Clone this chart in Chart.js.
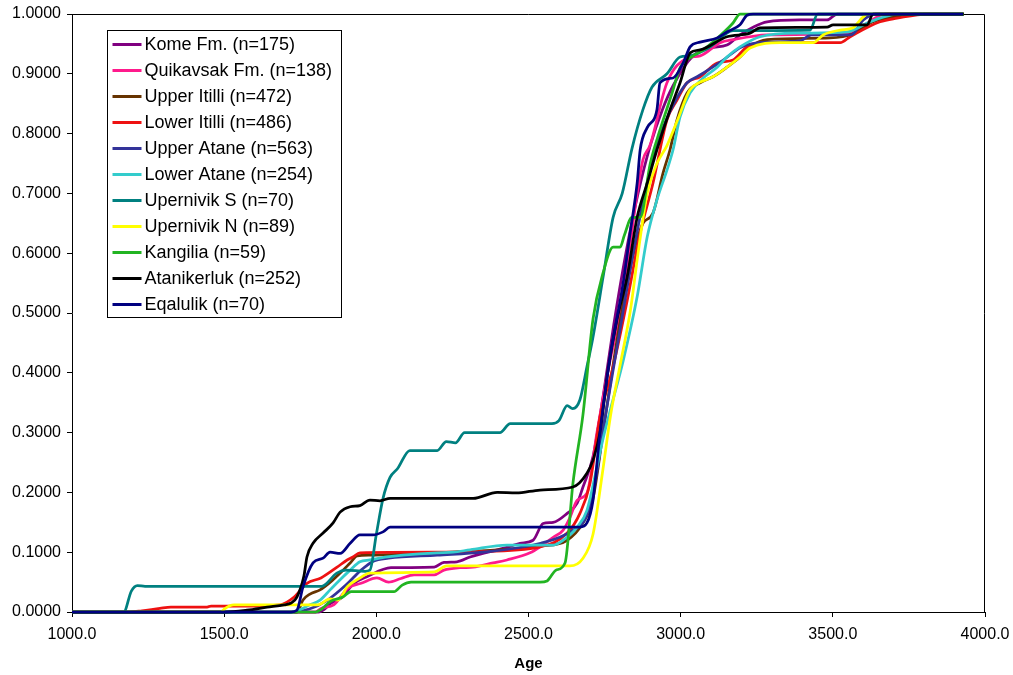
<!DOCTYPE html>
<html>
<head>
<meta charset="utf-8">
<script src="https://cdn.jsdelivr.net/npm/chart.js"></script>
<style>
html, body { margin: 0; padding: 0; background: #fff; }
#wrap { width: 1013px; height: 675px; position: relative; }
</style>
</head>
<body>
<div id="wrap"><canvas id="c"></canvas></div>
<script>
// cumulative age distributions
const komeAge = [1000, 1810, 1830, 1851, 1884, 1927, 1969, 2048, 2190, 2222, 2265, 2308, 2429, 2472, 2515, 2548, 2581, 2627, 2660, 2679, 2712, 2745, 2780, 2820, 2860, 2900, 2940, 2975, 3041, 3097, 3152, 3195, 3238, 3284, 3392, 3481, 3514, 3930];
const komeVal = [0, 0, 0.005, 0.015, 0.023, 0.048, 0.059, 0.074, 0.075, 0.083, 0.084, 0.092, 0.108, 0.115, 0.12, 0.148, 0.15, 0.165, 0.182, 0.209, 0.26, 0.36, 0.48, 0.6, 0.7, 0.78, 0.84, 0.88, 0.93, 0.943, 0.948, 0.965, 0.978, 0.987, 0.99, 0.99, 1.0, 1.0];

const quikAge = [1000, 1800, 1818, 1860, 1907, 1950, 2002, 2040, 2081, 2124, 2190, 2222, 2275, 2318, 2384, 2429, 2505, 2538, 2581, 2614, 2637, 2660, 2692, 2725, 2760, 2800, 2830, 2857, 2876, 2899, 2955, 3021, 3064, 3130, 3172, 3284, 3547, 3590, 3645, 3678, 3930];
const quikVal = [0, 0, 0.006, 0.012, 0.04, 0.048, 0.057, 0.05, 0.056, 0.062, 0.062, 0.07, 0.074, 0.075, 0.082, 0.087, 0.099, 0.109, 0.125, 0.137, 0.159, 0.187, 0.199, 0.3, 0.4, 0.5, 0.6, 0.7, 0.756, 0.78, 0.885, 0.926, 0.93, 0.952, 0.957, 0.965, 0.968, 0.977, 0.995, 1.0, 1.0];

const upItilliAge = [1000, 1740, 1759, 1782, 1815, 1858, 1881, 1914, 1937, 1979, 2100, 2250, 2400, 2540, 2627, 2679, 2712, 2745, 2780, 2820, 2850, 2876, 2909, 2942, 2965, 2988, 3021, 3064, 3106, 3152, 3195, 3228, 3284, 3491, 3567, 3632, 3698, 3764, 3930];
const upItilliVal = [0, 0, 0.02, 0.03, 0.037, 0.054, 0.065, 0.082, 0.094, 0.095, 0.097, 0.1, 0.104, 0.11, 0.12, 0.149, 0.19, 0.3, 0.42, 0.54, 0.61, 0.65, 0.667, 0.734, 0.773, 0.823, 0.868, 0.885, 0.895, 0.911, 0.928, 0.945, 0.957, 0.96, 0.967, 0.987, 0.995, 1.0, 1.0];

const loItilliAge = [1000, 1190, 1230, 1289, 1325, 1444, 1457, 1575, 1684, 1730, 1772, 1818, 1871, 1904, 1923, 1946, 2199, 2320, 2538, 2627, 2669, 2702, 2735, 2778, 2824, 2867, 2909, 2955, 2988, 3021, 3064, 3120, 3172, 3218, 3284, 3524, 3557, 3655, 3711, 3810, 3930];
const loItilliVal = [0, 0, 0.002, 0.006, 0.008, 0.008, 0.01, 0.01, 0.012, 0.025, 0.048, 0.057, 0.075, 0.087, 0.092, 0.099, 0.1, 0.101, 0.109, 0.132, 0.165, 0.215, 0.326, 0.41, 0.52, 0.634, 0.717, 0.823, 0.856, 0.885, 0.895, 0.918, 0.923, 0.945, 0.952, 0.952, 0.962, 0.987, 0.993, 1.0, 1.0];

const upAtaneAge = [1000, 1720, 1780, 1840, 1900, 1950, 1990, 2040, 2200, 2350, 2540, 2640, 2690, 2720, 2750, 2790, 2830, 2870, 2910, 2950, 2988, 3021, 3054, 3140, 3200, 3284, 3392, 3430, 3560, 3600, 3640, 3930];
const upAtaneVal = [0, 0, 0.005, 0.02, 0.045, 0.07, 0.085, 0.09, 0.095, 0.1, 0.115, 0.135, 0.16, 0.22, 0.32, 0.44, 0.56, 0.67, 0.76, 0.82, 0.86, 0.885, 0.895, 0.923, 0.945, 0.953, 0.955, 0.965, 0.965, 0.99, 1.0, 1.0];

const loAtaneAge = [1000, 1720, 1782, 1815, 1848, 1881, 1914, 1946, 1979, 2035, 2088, 2199, 2252, 2308, 2429, 2581, 2614, 2660, 2692, 2725, 2745, 2770, 2811, 2857, 2890, 2922, 2955, 2975, 2998, 3031, 3074, 3120, 3152, 3195, 3261, 3392, 3547, 3613, 3655, 3711, 3930];
const loAtaneVal = [0, 0, 0.012, 0.02, 0.037, 0.054, 0.07, 0.084, 0.087, 0.092, 0.095, 0.099, 0.1, 0.104, 0.112, 0.112, 0.12, 0.142, 0.17, 0.243, 0.29, 0.34, 0.42, 0.527, 0.627, 0.689, 0.739, 0.773, 0.828, 0.868, 0.893, 0.911, 0.928, 0.945, 0.962, 0.968, 0.97, 0.985, 0.993, 1.0, 1.0];

const upernSAge = [1000, 1170, 1195, 1215, 1240, 1820, 1870, 1900, 1963, 1979, 2000, 2022, 2045, 2070, 2110, 2200, 2230, 2260, 2290, 2406, 2440, 2577, 2600, 2627, 2645, 2669, 2692, 2712, 2745, 2778, 2808, 2840, 2876, 2906, 2955, 2998, 3030, 3097, 3172, 3425, 3450, 3930];
const upernSVal = [0, 0, 0.035, 0.044, 0.043, 0.043, 0.065, 0.07, 0.068, 0.07, 0.13, 0.19, 0.225, 0.24, 0.27, 0.27, 0.285, 0.283, 0.3, 0.3, 0.315, 0.315, 0.32, 0.345, 0.34, 0.355, 0.41, 0.46, 0.56, 0.66, 0.7, 0.775, 0.84, 0.878, 0.9, 0.928, 0.93, 0.945, 0.972, 0.973, 1.0, 1.0];

const upernNAge = [1000, 1490, 1500, 1532, 1808, 1848, 1875, 1904, 1940, 1979, 2190, 2232, 2636, 2679, 2712, 2745, 2770, 2800, 2835, 2860, 2890, 2922, 2955, 2990, 3030, 3064, 3106, 3152, 3195, 3228, 3327, 3435, 3468, 3524, 3567, 3590, 3615, 3930];
const upernNVal = [0, 0, 0.005, 0.012, 0.012, 0.022, 0.02, 0.042, 0.055, 0.065, 0.067, 0.077, 0.077, 0.09, 0.13, 0.24, 0.33, 0.41, 0.505, 0.6, 0.7, 0.75, 0.78, 0.823, 0.873, 0.886, 0.895, 0.911, 0.928, 0.943, 0.952, 0.952, 0.965, 0.973, 0.977, 0.99, 1.0, 1.0];

const kangAge = [1000, 1800, 1818, 1850, 1890, 1917, 2058, 2085, 2114, 2538, 2561, 2590, 2620, 2646, 2679, 2712, 2745, 2778, 2801, 2815, 2840, 2867, 2900, 2932, 2972, 2998, 3041, 3074, 3106, 3172, 3195, 3930];
const kangVal = [0, 0, 0.004, 0.018, 0.025, 0.034, 0.034, 0.045, 0.05, 0.05, 0.052, 0.07, 0.082, 0.215, 0.33, 0.49, 0.567, 0.61, 0.61, 0.63, 0.66, 0.66, 0.75, 0.806, 0.868, 0.91, 0.93, 0.94, 0.953, 0.985, 1.0, 1.0];

const ataniAge = [1000, 1500, 1575, 1641, 1697, 1720, 1739, 1762, 1772, 1792, 1825, 1858, 1881, 1914, 1946, 1979, 2012, 2045, 2318, 2397, 2460, 2538, 2646, 2692, 2712, 2735, 2760, 2791, 2824, 2857, 2890, 2922, 2965, 2998, 3031, 3064, 3152, 3228, 3261, 3481, 3501, 3613, 3632, 3930];
const ataniVal = [0, 0, 0.003, 0.008, 0.012, 0.015, 0.025, 0.06, 0.092, 0.115, 0.132, 0.149, 0.167, 0.176, 0.178, 0.187, 0.186, 0.19, 0.19, 0.2, 0.199, 0.204, 0.209, 0.232, 0.254, 0.3, 0.4, 0.49, 0.56, 0.66, 0.717, 0.773, 0.84, 0.885, 0.935, 0.94, 0.962, 0.968, 0.977, 0.978, 0.982, 0.982, 1.0, 1.0];

const eqalAge = [1000, 1720, 1739, 1759, 1792, 1825, 1848, 1881, 1914, 1946, 1989, 2022, 2045, 2669, 2692, 2712, 2735, 2768, 2811, 2834, 2857, 2867, 2890, 2922, 2932, 2975, 3008, 3031, 3064, 3120, 3152, 3195, 3218, 3238, 3928];
const eqalVal = [0, 0, 0.003, 0.042, 0.082, 0.09, 0.1, 0.098, 0.115, 0.129, 0.129, 0.134, 0.142, 0.142, 0.149, 0.187, 0.3, 0.426, 0.55, 0.634, 0.717, 0.773, 0.81, 0.84, 0.885, 0.893, 0.918, 0.945, 0.953, 0.96, 0.97, 0.982, 0.998, 1.0, 1.0];

const seriesNames = ['Kome Fm. (n=175)', 'Quikavsak Fm. (n=138)', 'Upper Itilli (n=472)', 'Lower Itilli (n=486)', 'Upper Atane (n=563)', 'Lower Atane (n=254)', 'Upernivik S (n=70)', 'Upernivik N (n=89)', 'Kangilia (n=59)', 'Atanikerluk (n=252)', 'Eqalulik (n=70)'];
const seriesColors = ['#800080', '#ff1a8c', '#663300', '#ee1111', '#333399', '#33cccc', '#008080', '#ffff00', '#22b422', '#000000', '#000080'];
const seriesAges = [komeAge, quikAge, upItilliAge, loItilliAge, upAtaneAge, loAtaneAge, upernSAge, upernNAge, kangAge, ataniAge, eqalAge];
const seriesVals = [komeVal, quikVal, upItilliVal, loItilliVal, upAtaneVal, loAtaneVal, upernSVal, upernNVal, kangVal, ataniVal, eqalVal];

const FONT = '"Liberation Sans", Arial, sans-serif';

const datasets = seriesNames.map((name, i) => ({
    label: name,
    data: seriesAges[i].map((a, j) => ({ x: a, y: seriesVals[i][j] })),
    borderColor: seriesColors[i],
    backgroundColor: seriesColors[i],
    borderWidth: 2.75,
    pointRadius: 0,
    cubicInterpolationMode: 'monotone',
    fill: false,
    clip: 3,
    order: seriesNames.length - i,
}));

// top and right edge of the plot area
const frame = {
    id: 'frame',
    beforeDatasetsDraw(chart) {
        const { ctx, chartArea: a } = chart;
        ctx.save();
        ctx.strokeStyle = '#000'; ctx.lineWidth = 1;
        ctx.beginPath();
        ctx.moveTo(a.left, a.top + 0.5); ctx.lineTo(a.right - 0.5, a.top + 0.5); ctx.lineTo(a.right - 0.5, a.bottom);
        ctx.stroke();
        ctx.restore();
    }
};

// boxed legend inside the plot
const boxLegend = {
    id: 'boxLegend',
    afterDraw(chart) {
        const { ctx, chartArea: a } = chart;
        const x0 = a.left + 35.5, y0 = a.top + 16.5, w = 234, h = 287, row = 26.0;
        ctx.save();
        ctx.fillStyle = '#fff'; ctx.fillRect(x0, y0, w, h);
        ctx.strokeStyle = '#000'; ctx.lineWidth = 1; ctx.strokeRect(x0, y0, w, h);
        ctx.font = '18px ' + FONT; ctx.textBaseline = 'middle'; ctx.textAlign = 'left';
        seriesNames.forEach((name, i) => {
            const y = y0 + 14 + i * row;
            ctx.strokeStyle = seriesColors[i]; ctx.lineWidth = 3;
            ctx.beginPath(); ctx.moveTo(x0 + 5, y); ctx.lineTo(x0 + 34, y); ctx.stroke();
            ctx.fillStyle = '#000'; ctx.fillText(name, x0 + 37, y + 1);
        });
        ctx.restore();
    }
};

const chart = new Chart(document.getElementById('c'), {
    type: 'line',
    data: { datasets },
    options: {
        responsive: true,
        maintainAspectRatio: false,
        animation: false,
        events: [],
        layout: { padding: { top: 14, right: 28, left: 0, bottom: 0 } },
        plugins: { legend: { display: false }, tooltip: { enabled: false } },
        scales: {
            x: {
                type: 'linear', min: 1000, max: 4000,
                afterFit(scale) { scale.height = 63; scale.paddingLeft = 0; scale.paddingRight = 0; },
                ticks: { stepSize: 500, maxRotation: 0, autoSkip: false, padding: 8, color: '#000', font: { family: FONT, size: 16 }, callback: v => v.toFixed(1) },
                grid: { display: true, drawOnChartArea: false, drawTicks: true, tickLength: 5, color: '#000' },
                border: { display: true, color: '#000', width: 1 },
                title: { display: true, text: 'Age', color: '#000', font: { family: FONT, size: 15, weight: 'bold' }, padding: { top: 0, bottom: 2 } },
            },
            y: {
                min: 0, max: 1,
                afterFit(scale) { scale.width = 72; scale.paddingTop = 0; scale.paddingBottom = 0; },
                ticks: { stepSize: 0.1, padding: 6, color: '#000', font: { family: FONT, size: 16 }, callback: v => v.toFixed(4) },
                grid: { display: true, drawOnChartArea: false, drawTicks: true, tickLength: 5, color: '#000' },
                border: { display: true, color: '#000', width: 1 },
            }
        }
    },
    plugins: [frame, boxLegend]
});
</script>
</body>
</html>
